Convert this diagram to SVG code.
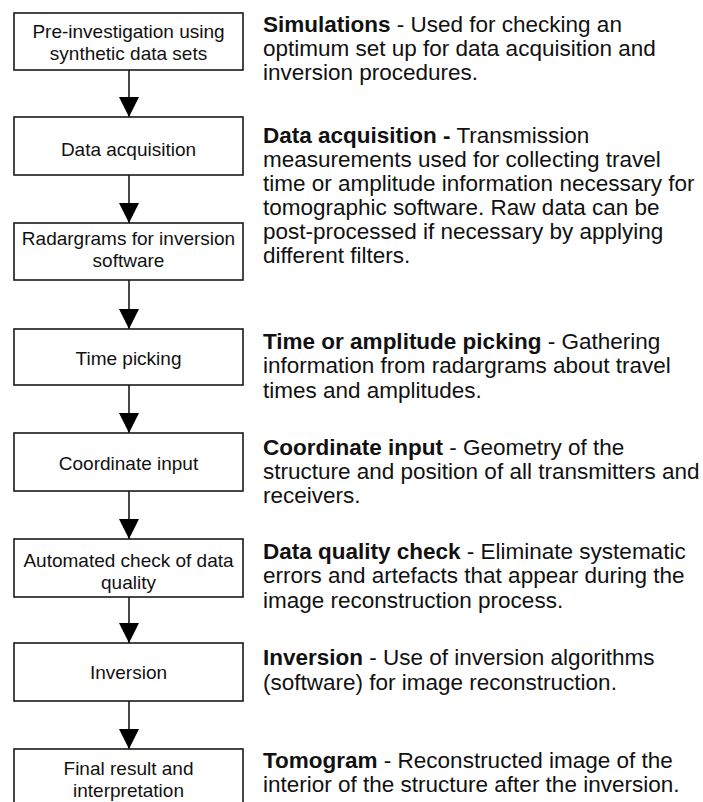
<svg xmlns="http://www.w3.org/2000/svg" width="703" height="802" viewBox="0 0 703 802">
  <style>
    .box { fill: #fff; stroke: #1a1a1a; stroke-width: 1.6; }
    .lbl { font-family: "Liberation Sans", Arial, sans-serif; font-size: 19px; fill: #111; text-anchor: middle; }
    .desc { font-family: "Liberation Sans", Arial, sans-serif; font-size: 22.5px; fill: #111; }
    .desc .b { font-weight: bold; }
    .conn { stroke: #1a1a1a; stroke-width: 1.6; fill: none; marker-end: url(#arrow); }
  </style>
  <defs>
    <marker id="arrow" markerUnits="userSpaceOnUse" markerWidth="20" markerHeight="21" refX="20" refY="10" orient="auto" viewBox="0 0 20 21">
      <path d="M0,0 L20,10 L0,20 Z" fill="#000"/>
    </marker>
  </defs>
  <rect width="703" height="802" fill="#fff"/>

  <!-- connectors -->
  <g id="connectors">
    <line class="conn" x1="129" y1="70" x2="129" y2="117"/>
    <line class="conn" x1="129" y1="175" x2="129" y2="223"/>
    <line class="conn" x1="129" y1="280" x2="129" y2="329"/>
    <line class="conn" x1="129" y1="385" x2="129" y2="433"/>
    <line class="conn" x1="129" y1="491" x2="129" y2="539"/>
    <line class="conn" x1="129" y1="597" x2="129" y2="643"/>
    <line class="conn" x1="129" y1="701" x2="129" y2="749"/>
  </g>

  <!-- flow steps -->
  <g id="step-preinvestigation">
    <rect class="box" x="14" y="13" width="229" height="57"/>
    <text class="lbl" x="128.5" y="38">Pre-investigation using</text>
    <text class="lbl" x="128.5" y="60">synthetic data sets</text>
  </g>
  <g id="step-acquisition">
    <rect class="box" x="14" y="117" width="229" height="58"/>
    <text class="lbl" x="128.5" y="156">Data acquisition</text>
  </g>
  <g id="step-radargrams">
    <rect class="box" x="14" y="223" width="229" height="57"/>
    <text class="lbl" x="128.5" y="245">Radargrams for inversion</text>
    <text class="lbl" x="128.5" y="267">software</text>
  </g>
  <g id="step-picking">
    <rect class="box" x="14" y="329" width="229" height="56"/>
    <text class="lbl" x="128.5" y="365">Time picking</text>
  </g>
  <g id="step-coordinates">
    <rect class="box" x="14" y="433" width="229" height="58"/>
    <text class="lbl" x="128.5" y="470">Coordinate input</text>
  </g>
  <g id="step-quality">
    <rect class="box" x="14" y="539" width="229" height="58"/>
    <text class="lbl" x="128.5" y="567">Automated check of data</text>
    <text class="lbl" x="128.5" y="589">quality</text>
  </g>
  <g id="step-inversion">
    <rect class="box" x="14" y="643" width="229" height="58"/>
    <text class="lbl" x="128.5" y="679">Inversion</text>
  </g>
  <g id="step-result">
    <rect class="box" x="14" y="749" width="229" height="58"/>
    <text class="lbl" x="128.5" y="775">Final result and</text>
    <text class="lbl" x="128.5" y="797">interpretation</text>
  </g>

  <!-- descriptions -->
  <g id="descriptions" class="desc">
    <text x="263" y="32"><tspan class="b">Simulations</tspan> - Used for checking an</text>
    <text x="263" y="56">optimum set up for data acquisition and</text>
    <text x="263" y="80">inversion procedures.</text>

    <text x="263" y="143"><tspan class="b">Data acquisition -</tspan> Transmission</text>
    <text x="263" y="167">measurements used for collecting travel</text>
    <text x="263" y="191">time or amplitude information necessary for</text>
    <text x="263" y="215">tomographic software. Raw data can be</text>
    <text x="263" y="239">post-processed if necessary by applying</text>
    <text x="263" y="263">different filters.</text>

    <text x="263" y="349"><tspan class="b">Time or amplitude picking</tspan> - Gathering</text>
    <text x="263" y="373">information from radargrams about travel</text>
    <text x="263" y="398">times and amplitudes.</text>

    <text x="263" y="455"><tspan class="b">Coordinate input</tspan> - Geometry of the</text>
    <text x="263" y="479">structure and position of all transmitters and</text>
    <text x="263" y="503">receivers.</text>

    <text x="263" y="559"><tspan class="b">Data quality check</tspan> - Eliminate systematic</text>
    <text x="263" y="583">errors and artefacts that appear during the</text>
    <text x="263" y="608">image reconstruction process.</text>

    <text x="263" y="665"><tspan class="b">Inversion</tspan> - Use of inversion algorithms</text>
    <text x="263" y="690">(software) for image reconstruction.</text>

    <text x="263" y="768"><tspan class="b">Tomogram</tspan> - Reconstructed image of the</text>
    <text x="263" y="792">interior of the structure after the inversion.</text>
  </g>
</svg>
